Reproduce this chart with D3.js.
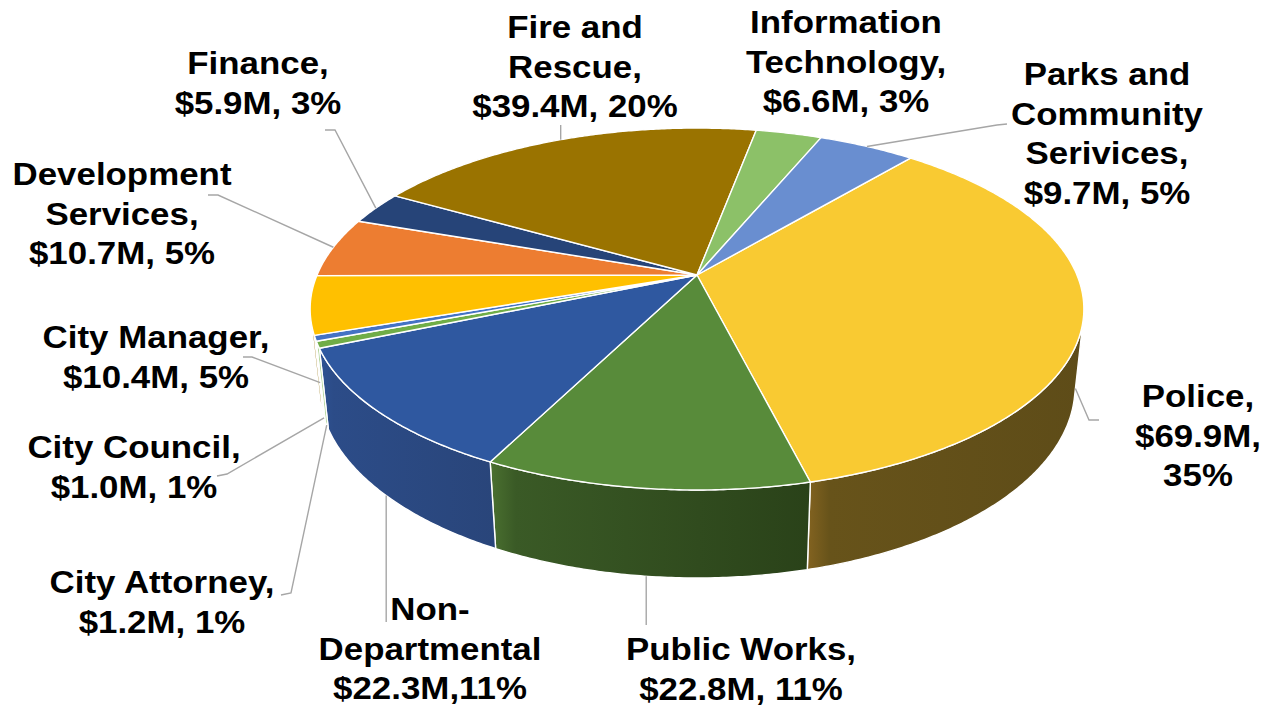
<!DOCTYPE html>
<html>
<head>
<meta charset="utf-8">
<script src="https://cdn.jsdelivr.net/npm/d3@7"></script>
<style>
  body { margin: 0; background: #fff; }
  text { font-family: "Liberation Sans", Arial, sans-serif; font-weight: bold; fill: #000; }
</style>
</head>
<body>
<script>
// budget by department, clockwise from the first slice
const departments = ["Police", "Public Works", "Non-Departmental", "City Attorney", "City Council",
  "City Manager", "Development Services", "Finance", "Fire and Rescue",
  "Information Technology", "Parks and Community Serivices"];
const values = [69.9, 22.8, 22.3, 1.2, 1.0, 10.4, 10.7, 5.9, 39.4, 6.6, 9.7];
const labelLines = [
  ["Police,", "$69.9M,", "35%"],
  ["Public Works,", "$22.8M, 11%"],
  ["Non-", "Departmental", "$22.3M,11%"],
  ["City Attorney,", "$1.2M, 1%"],
  ["City Council,", "$1.0M, 1%"],
  ["City Manager,", "$10.4M, 5%"],
  ["Development", "Services,", "$10.7M, 5%"],
  ["Finance,", "$5.9M, 3%"],
  ["Fire and", "Rescue,", "$39.4M, 20%"],
  ["Information", "Technology,", "$6.6M, 3%"],
  ["Parks and", "Community", "Serivices,", "$9.7M, 5%"]
];

// styles
const topColors = ["#F9CA32", "#588B3A", "#2F58A0", "#70AD47", "#4472C4", "#FFC000",
  "#ED7D31", "#264478", "#9A7300", "#8CC168", "#698ED0"];
const wallColors = [["#836320", "#67531A", "#5E4C18"], ["#4B7130", "#3A5A26", "#2A4219"],
  ["#2E5293", "#2C4C88", "#29457A"], ["#A9D08E", "#A9D08E", "#A9D08E"],
  ["#6F8FCB", "#6F8FCB", "#6F8FCB"], ["#B38700", "#9A7400", "#8A6800"],
  ["#A85822", "#A85822", "#A85822"], ["#1B3055", "#1B3055", "#1B3055"],
  ["#6D5200", "#6D5200", "#6D5200"], ["#638A4B", "#638A4B", "#638A4B"],
  ["#4B6594", "#4B6594", "#4B6594"]];

// label layout: centre x, first baseline, leader (start, tick, anchor angle/depth)
const labelLayout = [
  { x: 1198, y: 407, lead: [[1099, 420], [1089, 420]], phi: null, depth: 0.92 },
  { x: 741, y: 660, lead: [[null, 625]], phi: null, depth: 1 },
  { x: 430, y: 620, lead: [[null, 622]], phi: null, depth: 1 },
  { x: 162, y: 593, lead: [[281, 595], [291, 593]], phi: 248.2, depth: 1 },
  { x: 134, y: 458, lead: [[217, 476], [227, 474]], phi: 250.3, depth: 1 },
  { x: 156, y: 348, lead: [[243, 357], [252, 357]], phi: 250.2, depth: 0.55 },
  { x: 122, y: 185, lead: [[208, 195], [218, 195]], phi: null, depth: 0 },
  { x: 258, y: 74, lead: [[325, 130], [335, 130]], phi: null, depth: 0 },
  { x: 575, y: 38, lead: [[null, 125]], phi: null, depth: 0 },
  { x: 846, y: 33, lead: null },
  { x: 1107, y: 85, lead: [[1007, 124], [997, 125]], phi: null, depth: 0 }
];

const W = 1266, H = 710;
const cx = 697, cy = 275;
const tilt = 27.35 * Math.PI / 180, camDist = 4.726, focal = 1795.7, thick = 0.232;
const cosT = Math.cos(tilt), sinT = Math.sin(tilt);
const lineH = 39.5, fontSize = 32, stretch = 1.09;

const xScale = d3.scaleLinear().domain([0, 1]).range([cx, cx + focal]);
const yScale = d3.scaleLinear().domain([0, 1]).range([cy, cy + focal]);

// perspective projection of a point on the pie (angle clockwise from 12 o'clock)
function project(phiDeg, r, depth) {
  const p = phiDeg * Math.PI / 180;
  const X = r * Math.sin(p), Z = -r * Math.cos(p), Y = -depth * thick;
  const zc = camDist - Z * cosT - Y * sinT;
  const yc = -Y * cosT + Z * sinT;
  return [xScale(X / zc), yScale(yc / zc)];
}

const svg = d3.select("body").append("svg").attr("width", W).attr("height", H);
svg.append("rect").attr("width", W).attr("height", H).attr("fill", "#fff");
const defs = svg.append("defs");

const pie = d3.pie().sort(null).value(d => d)
  .startAngle(40 * Math.PI / 180).endAngle(400 * Math.PI / 180);
const arcs = pie(values).map(a => ({
  a0: a.startAngle * 180 / Math.PI,
  a1: a.endAngle * 180 / Math.PI,
  i: a.index
}));

const silA = Math.acos(-1 / (camDist * cosT)) * 180 / Math.PI;
const silB = 360 - silA;

function arcPts(a0, a1, depth) {
  const n = Math.max(2, Math.ceil(Math.abs(a1 - a0) / 0.5));
  return d3.range(n + 1).map(j => project(a0 + (a1 - a0) * j / n, 1, depth));
}
const line = d3.line();

// side walls, lighter on the left of each slice
const walls = svg.append("g");
arcs.forEach(s => {
  const w0 = Math.max(s.a0, silA), w1 = Math.min(s.a1, silB);
  if (w1 <= w0) return;
  const top = arcPts(w0, w1, 0), bot = arcPts(w1, w0, 1);
  const pts = top.concat(bot);
  const xs = pts.map(p => p[0]);
  const gid = "wall" + s.i;
  const g = defs.append("linearGradient").attr("id", gid)
    .attr("gradientUnits", "userSpaceOnUse")
    .attr("x1", d3.min(xs)).attr("x2", d3.max(xs)).attr("y1", 0).attr("y2", 0);
  const wc = wallColors[s.i];
  g.append("stop").attr("offset", 0).attr("stop-color", wc[0]);
  g.append("stop").attr("offset", 0.08).attr("stop-color", wc[1]);
  g.append("stop").attr("offset", 1).attr("stop-color", wc[2]);
  walls.append("path").attr("d", line(pts) + "Z")
    .attr("fill", `url(#${gid})`)
    .attr("stroke", "#fff").attr("stroke-width", 1.4).attr("stroke-linejoin", "round");
});

// top faces
const tops = svg.append("g");
arcs.forEach(s => {
  const pts = [project(0, 0, 0)].concat(arcPts(s.a0, s.a1, 0));
  tops.append("path").attr("d", line(pts) + "Z")
    .attr("fill", topColors[s.i])
    .attr("stroke", "#fff").attr("stroke-width", 1.4).attr("stroke-linejoin", "round");
});

// leader lines
const leaders = svg.append("g").attr("fill", "none").attr("stroke", "#A6A6A6").attr("stroke-width", 1.4);
arcs.forEach(s => {
  const L = labelLayout[s.i];
  if (!L.lead) return;
  const phi = L.phi === null ? (s.a0 + s.a1) / 2 : L.phi;
  const anchor = project(phi, 1, L.depth);
  const pts = L.lead.map(p => [p[0] === null ? anchor[0] : p[0], p[1]]);
  pts.push(anchor);
  leaders.append("path").attr("d", line(pts));
});

// labels
const labels = svg.append("g");
arcs.forEach(s => {
  const L = labelLayout[s.i];
  labelLines[s.i].forEach((t, j) => {
    labels.append("text")
      .attr("transform", `translate(${L.x},${L.y + j * lineH}) scale(${stretch},1)`)
      .attr("text-anchor", "middle")
      .style("font-size", fontSize + "px")
      .text(t);
  });
});
</script>
</body>
</html>
